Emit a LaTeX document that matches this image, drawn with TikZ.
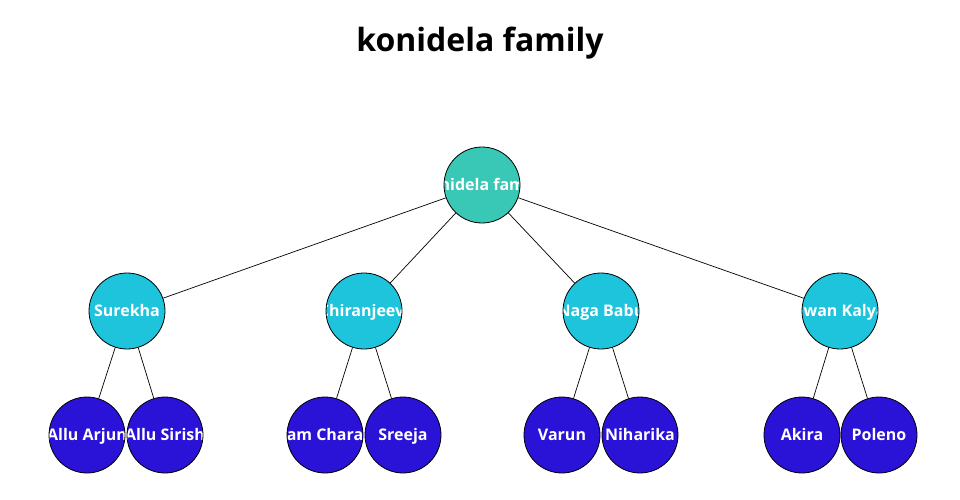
\documentclass[tikz,border=0pt]{standalone}
\usepackage{fontspec}
\setmainfont{Open Sans}
\definecolor{rootc}{RGB}{58,200,182}
\definecolor{midc}{RGB}{30,196,220}
\definecolor{leafc}{RGB}{42,18,214}
\begin{document}
\begin{tikzpicture}[x=1pt,y=-1pt,
  person/.style={circle, draw, line width=0.8pt, minimum size=76pt, inner sep=0pt,
    path picture={\node[text=white,font=\fontsize{16}{18}\selectfont\bfseries,inner sep=0pt,text height=11.3pt,text depth=0pt] at (path picture bounding box.center) {#1};}},
  link/.style={draw, line width=0.7pt}]
\useasboundingbox (0,0) rectangle (960,500);
\node[font=\fontsize{32}{36}\selectfont\bfseries] (title) at (480,43) {konidela family};
\node[person=konidela family, fill=rootc] (root) at (482,185) {};
\node[person=Surekha, fill=midc] (surekha) at (127,311) {};
\node[person=Chiranjeevi, fill=midc] (chiru) at (364,311) {};
\node[person=Naga Babu, fill=midc] (naga) at (601,311) {};
\node[person=Pawan Kalyan, fill=midc] (pawan) at (840,311) {};
\node[person=Allu Arjun, fill=leafc] (arjun) at (87,435) {};
\node[person=Allu Sirish, fill=leafc] (sirish) at (165,435) {};
\node[person=Ram Charan, fill=leafc] (charan) at (325,435) {};
\node[person=Sreeja, fill=leafc] (sreeja) at (403,435) {};
\node[person=Varun, fill=leafc] (varun) at (562,435) {};
\node[person=Niharika, fill=leafc] (niharika) at (640,435) {};
\node[person=Akira, fill=leafc] (akira) at (802,435) {};
\node[person=Poleno, fill=leafc] (poleno) at (879,435) {};
\foreach \a/\b in {root/surekha, root/chiru, root/naga, root/pawan,
  surekha/arjun, surekha/sirish, chiru/charan, chiru/sreeja,
  naga/varun, naga/niharika, pawan/akira, pawan/poleno}
  \draw[link] (\a) -- (\b);
\end{tikzpicture}
\end{document}
